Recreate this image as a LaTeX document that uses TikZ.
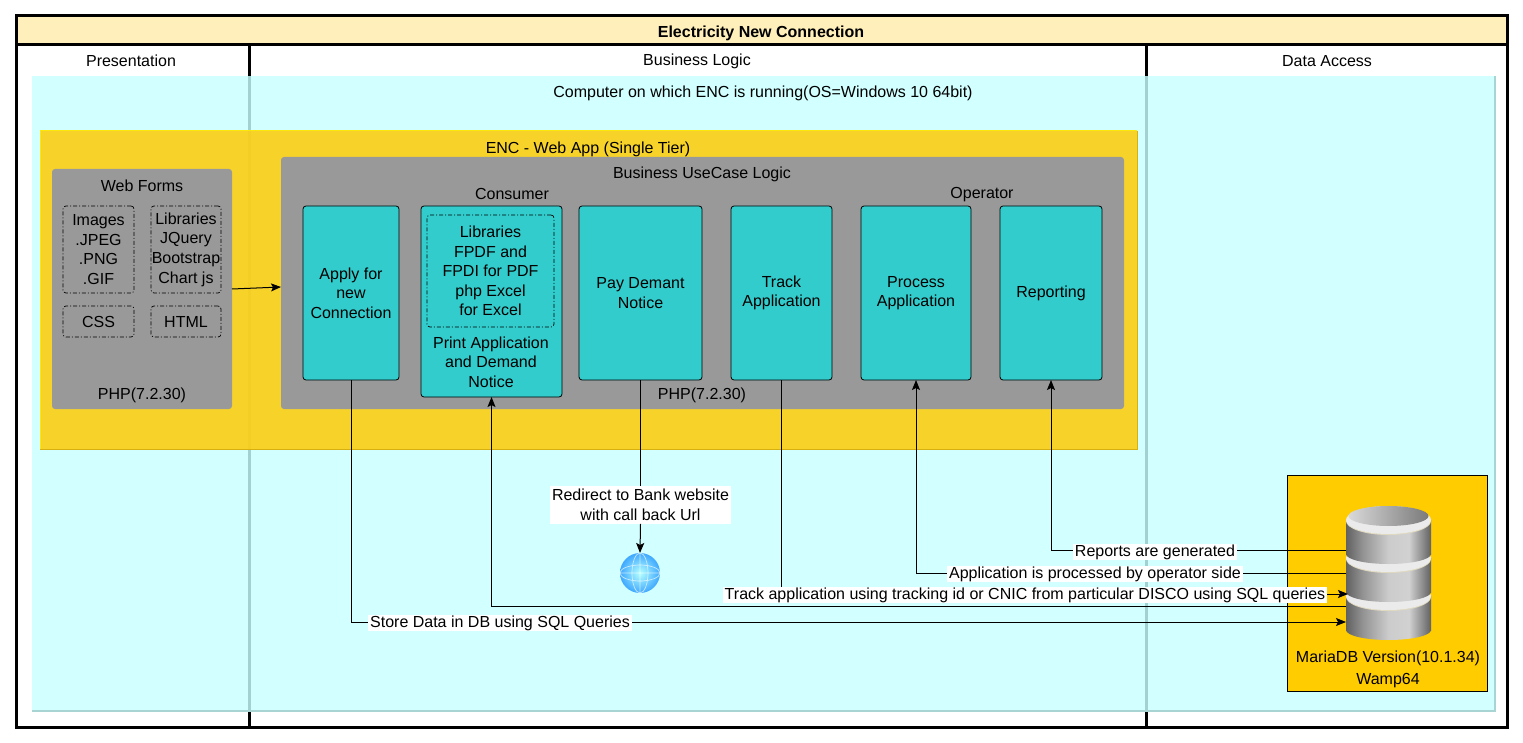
\documentclass[tikz,border=0pt]{standalone}
\usepackage{fontspec}
\setmainfont{Liberation Sans}
\usetikzlibrary{arrows.meta}
\definecolor{titlefill}{HTML}{FFF0BB}
\definecolor{hostfill}{HTML}{C8FFFF}
\definecolor{hostedge}{HTML}{A8D4D4}
\definecolor{webfill}{HTML}{FCCF14}
\definecolor{tealfill}{HTML}{33CCCC}
\definecolor{dbfill}{HTML}{FFCC00}
\pgfdeclarehorizontalshading{dbside}{100bp}{color(0bp)=(black!62); color(25bp)=(black!62);
  color(35bp)=(black!42); color(50bp)=(black!20); color(62bp)=(black!18); color(75bp)=(black!62); color(100bp)=(black!62)}
\pgfdeclarehorizontalshading{dbtop}{100bp}{color(0bp)=(black!15); color(25bp)=(black!15);
  color(75bp)=(black!52); color(100bp)=(black!52)}
\tikzset{
  txt/.style={font=\fontsize{16}{19.6}\selectfont, align=center, inner sep=0pt, yshift=-1pt},
  box/.style={txt, outer sep=0pt, minimum width=#1, yshift=1pt},
  lane/.style={box=#1, draw, line width=3pt, anchor=north west, minimum height=682pt},
  graybox/.style={box=#1, fill=black!40, rounded corners=3pt},
  tealbox/.style={box=#1, fill=tealfill, draw, line width=.8pt, rounded corners=3pt},
  libbox/.style={box=#1, draw, line width=.7pt, rounded corners=3pt,
    dash pattern=on 4pt off 2pt on 1pt off 2pt},
  lbl/.style={txt, fill=white, inner xsep=2pt, text height=12pt, text depth=4pt},
  flow/.style={line width=1pt},
  flowto/.style={flow, -{Stealth[length=10pt,width=8pt,inset=2pt]}}
}
\begin{document}
\begin{tikzpicture}[x=1pt,y=-1pt]
  \useasboundingbox (0,0) rectangle (1523,743);
  % swimlanes
  \node[lane=233pt] (presLane) at (16,45) {};
  \node[lane=897pt] (bizLane) at (249,45) {};
  \node[lane=361pt] (dataLane) at (1146,45) {};
  \node[box=1491pt, minimum height=29pt, fill=titlefill, draw, line width=3pt, anchor=north west] (title) at (16,16) {};
  \node[txt] (titleText) at (761,32) {\textbf{Electricity New Connection}};
  \node[txt] (presText) at (131,60) {Presentation};
  \node[txt] (bizText) at (697,60) {Business Logic};
  \node[txt] (dataText) at (1327,60) {Data Access};
  % computer
  \node[box=1463pt, minimum height=635pt, fill=hostfill, fill opacity=.82] (host) at (763.5,393.5) {};
  \draw[hostedge, line width=1.2pt] (host.north east) -- (host.south east) -- (host.south west);
  \node[txt] (hostText) at (763,92) {Computer on which ENC is running(OS=Windows 10 64bit)};
  % web app
  \node[box=1097pt, minimum height=318pt, fill=webfill, fill opacity=.9] (webApp) at (588.5,290) {};
  \draw[yellow!70!webfill, line width=1pt] (webApp.south west) -- (webApp.north west) -- (webApp.north east);
  \draw[black!15!webfill, line width=1pt] (webApp.north east) -- (webApp.south east) -- (webApp.south west);
  \node[txt] (webAppText) at (588,148) {ENC - Web App (Single Tier)};
  \node[graybox=180pt, minimum height=240pt] (webForms) at (142,289) {};
  \node[txt] (webFormsText) at (142,185) {Web Forms};
  \node[txt] (webPhp) at (142,394) {PHP(7.2.30)};
  \node[libbox=71pt, minimum height=87pt] (images) at (98.5,249.5) {Images\\.JPEG\\.PNG\\.GIF};
  \node[libbox=70pt, minimum height=87pt] (webLibs) at (186,249.5) {Libraries\\JQuery\\Bootstrap\\Chart js};
  \node[libbox=71pt, minimum height=31pt] (css) at (98.5,321.5) {CSS};
  \node[libbox=70pt, minimum height=31pt] (html) at (186,321.5) {HTML};
  \node[graybox=843pt, minimum height=252pt] (useCase) at (702.5,283) {};
  \node[txt] (useCaseText) at (702,173) {Business UseCase Logic};
  \node[txt] (consumer) at (512,193) {Consumer};
  \node[txt] (operator) at (982,194) {Operator};
  \node[txt] (bizPhp) at (702,394) {PHP(7.2.30)};
  \foreach \nm/\cx/\bw/\lab in {apply/351/96/{Apply for\\new\\Connection},
      pay/640.5/123/{Pay Demant\\Notice}, track/781.5/101/{Track\\Application},
      process/916/110/{Process\\Application}, report/1051/102/{Reporting}}{
    \node[tealbox=\bw pt, minimum height=174pt, execute at begin node=\vspace{2pt}] (\nm) at (\cx,293) {\lab};
  }
  \node[tealbox=141pt, minimum height=191pt] (print) at (491.5,301.5) {};
  \node[libbox=127pt, minimum height=112pt] (printLibs) at (490.5,271) {Libraries\\FPDF and\\FPDI for PDF\\php Excel\\for Excel};
  \node[txt] (printText) at (491,361) {Print Application\\and Demand\\Notice};
  % database
  \node[box=200pt, minimum height=216pt, fill=dbfill, draw, line width=.8pt] (dbBox) at (1387,583) {};
  \node[box=85pt, minimum height=134pt] (dbIcon) at (1388.5,573) {};
  \foreach \y in {596,558,520}{
    \shade[shading=dbside] (1346,\y) rectangle (1431,\y+34);
    \shade[shading=dbside] (1388.5,\y+34) circle[x radius=42.5, y radius=10];
    \fill[titlefill!80!black!60] (1388.5,\y+1) circle[x radius=42.5, y radius=14];
    \fill[black!8] (1388.5,\y) circle[x radius=42.5, y radius=14];
  }
  \shade[shading=dbtop] (1388.5,516) circle[x radius=40, y radius=10];
  \node[txt] (dbText) at (1388,657) {MariaDB Version(10.1.34)};
  \node[txt] (wampText) at (1388,680) {Wamp64};
  % globe
  \node[circle, minimum size=40pt, inner sep=0pt, outer sep=0pt] (globe) at (640,573) {};
  \shade[inner color=cyan!30!white, outer color=blue!45!cyan!75!white] (globe) circle(20);
  \draw[white, opacity=.65, line width=.7pt] (globe) circle[x radius=8, y radius=20] (globe) circle[x radius=20, y radius=8]
    (globe.north) -- (globe.south) (globe.west) -- (globe.east);
  % db ends
  \coordinate (dbReport) at (1346,550);
  \coordinate (dbProcess) at (1346,573);
  \coordinate (dbTrack) at (1348,594);
  \coordinate (dbPrint) at (1346,606);
  \coordinate (dbStore) at (1346,622);
  % connectors
  \node[txt, fill=white, inner xsep=2pt, inner ysep=3pt] (bankLbl) at (640.5,504) {Redirect to Bank website\\with call back Url};
  \draw[flowto] (webForms.east) -- (useCase.west |- 0,287);
  \draw[flowto] (apply.south) |- (dbStore);
  \draw[flowto] (dbPrint) -| (print.south);
  \draw[flowto] (track.south) |- (dbTrack);
  \draw[flowto] (dbProcess) -| (process.south);
  \draw[flowto] (dbReport) -| (report.south);
  \draw[flow] (pay.south) -- (bankLbl.north);
  \draw[flowto] (bankLbl.south) -- (globe.north);
  % labels
  \node[lbl] (reportLbl) at (1155,551) {Reports are generated};
  \node[lbl] (processLbl) at (1095,573) {Application is processed by operator side};
  \node[lbl] (trackLbl) at (1025,594) {Track application using tracking id or CNIC from particular DISCO using SQL queries};
  \node[lbl] (storeLbl) at (500,622) {Store Data in DB using SQL Queries};
\end{tikzpicture}
\end{document}
